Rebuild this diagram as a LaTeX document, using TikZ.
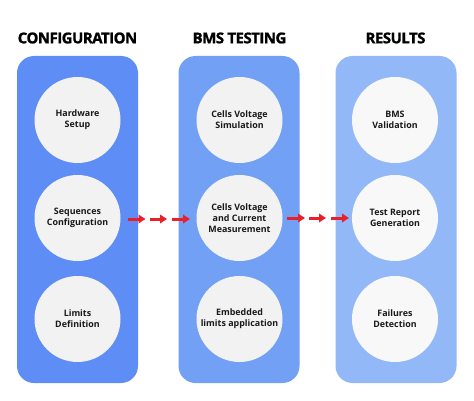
\documentclass[tikz,border=0pt]{standalone}
\usepackage{fontspec}
\setmainfont{Open Sans}
\newfontfamily\titlefont[LetterSpace=-3.5,FakeBold=1.2]{Open Sans}
\usetikzlibrary{arrows.meta}
\definecolor{pA}{HTML}{5E8DF6}
\definecolor{pB}{HTML}{72A0F4}
\definecolor{pC}{HTML}{93B8F7}
\definecolor{cA}{HTML}{F2F2F2}
\definecolor{cC}{HTML}{F8F8F8}
\definecolor{arr}{HTML}{E8202A}
\tikzset{
  panel/.style={rounded corners=17pt, minimum width=121pt, minimum height=327pt, inner sep=0pt},
  bubble/.style={circle, minimum size=86pt, inner sep=0pt, align=center,
    font=\fontsize{8.9}{11.3}\selectfont\bfseries, text=black!90},
  title/.style={font=\titlefont\fontsize{15}{18}\selectfont\bfseries, text=black},
  flow/.style={arr, line width=3pt, -{Triangle[length=7pt,width=8.5pt]}},
}
\begin{document}
\begin{tikzpicture}[x=1pt,y=-1pt]
\useasboundingbox (0,0) rectangle (474,401);
\fill[white] (0,0) rectangle (474,401);
% panels
\node[panel, fill=pA] (p1) at (77.5,219.5) {};
\node[panel, fill=pB] (p2) at (239,219.5) {};
\node[panel, fill=pC] (p3) at (396,219.5) {};
% titles
\node[title] (t1) at (77.5,38) {CONFIGURATION};
\node[title] (t2) at (239.5,38) {BMS TESTING};
\node[title] (t3) at (395.5,38) {RESULTS};
% circles
\node[bubble, fill=cA] (c11) at (77.5,120) {Hardware\\Setup};
\node[bubble, fill=cA] (c12) at (77.5,218) {Sequences\\Configuration};
\node[bubble, fill=cA] (c13) at (77.5,319) {Limits\\Definition};
\node[bubble, fill=cA] (c21) at (239.5,120) {Cells Voltage\\Simulation};
\node[bubble, fill=cA] (c22) at (239.5,218) {Cells Voltage\\and Current\\Measurement};
\node[bubble, fill=cA] (c23) at (239.5,319) {Embedded\\limits application};
\node[bubble, fill=cC] (c31) at (395,120) {BMS\\Validation};
\node[bubble, fill=cC] (c32) at (395,218) {Test Report\\Generation};
\node[bubble, fill=cC] (c33) at (395,319) {Failures\\Detection};
% arrows
\coordinate (a1s) at (128,219); \coordinate (a1e) at (145.5,219);
\coordinate (a2s) at (150,219); \coordinate (a2e) at (167,219);
\coordinate (a3s) at (172,219); \coordinate (a3e) at (190,219);
\coordinate (b1s) at (287,218); \coordinate (b1e) at (305,218);
\coordinate (b2s) at (309,218); \coordinate (b2e) at (326,218);
\coordinate (b3s) at (331,218); \coordinate (b3e) at (349,218);
\draw[flow] (a1s) -- (a1e);
\draw[flow] (a2s) -- (a2e);
\draw[flow] (a3s) -- (a3e);
\draw[flow] (b1s) -- (b1e);
\draw[flow] (b2s) -- (b2e);
\draw[flow] (b3s) -- (b3e);
\end{tikzpicture}
\end{document}
